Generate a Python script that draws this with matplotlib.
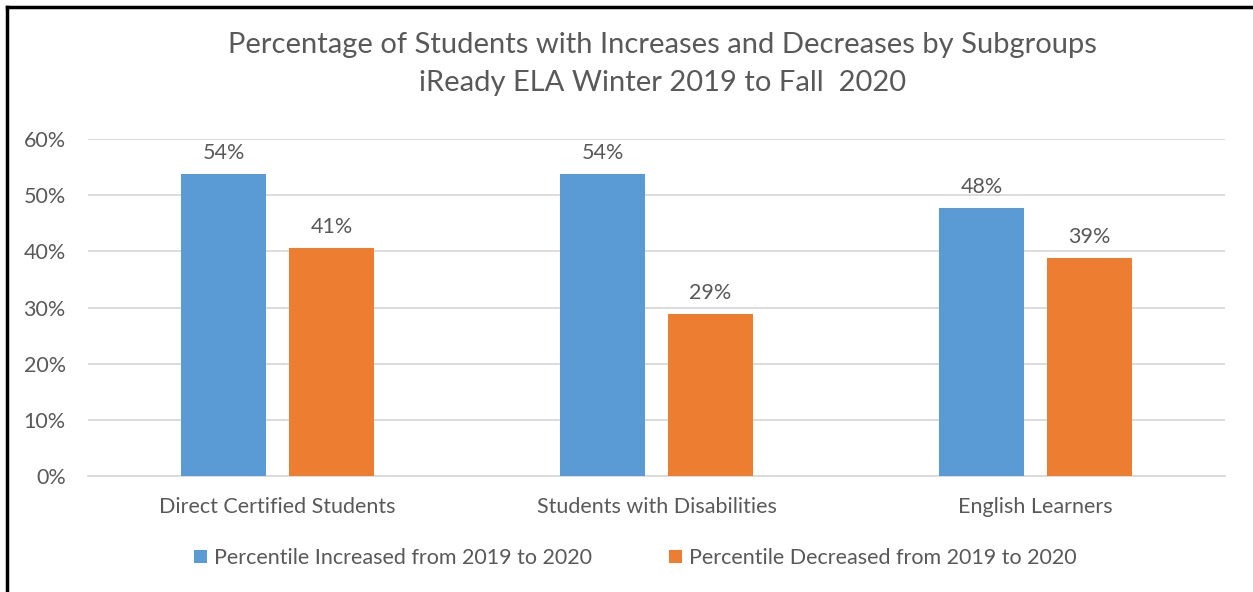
import matplotlib.pyplot as plt
import numpy as np

categories = ['Direct Certified Students', 'Students with Disabilities', 'English Learners']
increased = [53.8, 53.8, 47.7]
decreased = [40.6, 28.8, 38.8]
series_names = ['Percentile Increased from 2019 to 2020', 'Percentile Decreased from 2019 to 2020']
yticks = [0, 10, 20, 30, 40, 50, 60]

blue = '#5B9BD5'
orange = '#ED7D31'
txt = '#595959'

plt.rcParams['font.family'] = ['Lato', 'DejaVu Sans']

fig = plt.figure(figsize=(12.53, 5.92), dpi=100)
ax = fig.add_axes([88/1253, 1 - 476/592, (1225-88)/1253, (476-139)/592])

x = np.arange(len(categories))
w = 0.224
off = 0.1425
b1 = ax.bar(x - off, increased, w, color=blue, label=series_names[0], zorder=3)
b2 = ax.bar(x + off, decreased, w, color=orange, label=series_names[1], zorder=3)

for bars, vals in ((b1, increased), (b2, decreased)):
    for r, v in zip(bars, vals):
        ax.text(r.get_x() + r.get_width()/2, v + 2.0, f'{round(v)}%', ha='center', va='bottom',
                fontsize=15.5, color=txt)

ax.set_xlim(-0.5, 2.5)
ax.set_ylim(0, 60)
ax.set_yticks(yticks)
ax.set_yticklabels([f'{t}%' for t in yticks], fontsize=15.5, color=txt)
ax.set_xticks(x)
ax.set_xticklabels(categories, fontsize=15.5, color=txt)
ax.tick_params(length=0)
ax.tick_params(axis='y', pad=16)
ax.tick_params(axis='x', pad=15)
ax.grid(axis='y', color='#D9D9D9', linewidth=1.3, zorder=0)
for s in ['top', 'right', 'left']:
    ax.spines[s].set_visible(False)
ax.spines['bottom'].set_color('#D9D9D9')
ax.spines['bottom'].set_linewidth(1.3)

fig.text(0.529, 1 - 45/592, 'Percentage of Students with Increases and Decreases by Subgroups',
         ha='center', va='center', fontsize=21, color=txt)
fig.text(0.529, 1 - 83/592, 'iReady ELA Winter 2019 to Fall  2020',
         ha='center', va='center', fontsize=21, color=txt)

fig.legend(handles=[b1, b2], labels=series_names, loc='center', bbox_to_anchor=(0.507, 1 - 558/592),
           ncol=2, frameon=False, fontsize=15.5, labelcolor=txt, handlelength=0.6, handleheight=0.6,
           handletextpad=0.3, columnspacing=3.6)

# border lines on left and top
fig.add_artist(plt.Line2D([7/1253, 7/1253], [0, 1 - 7/592], color='black', linewidth=2.5))
fig.add_artist(plt.Line2D([7/1253, 1], [1 - 7/592, 1 - 7/592], color='black', linewidth=2.5))

fig.savefig('out.png', dpi=100, facecolor='white')
